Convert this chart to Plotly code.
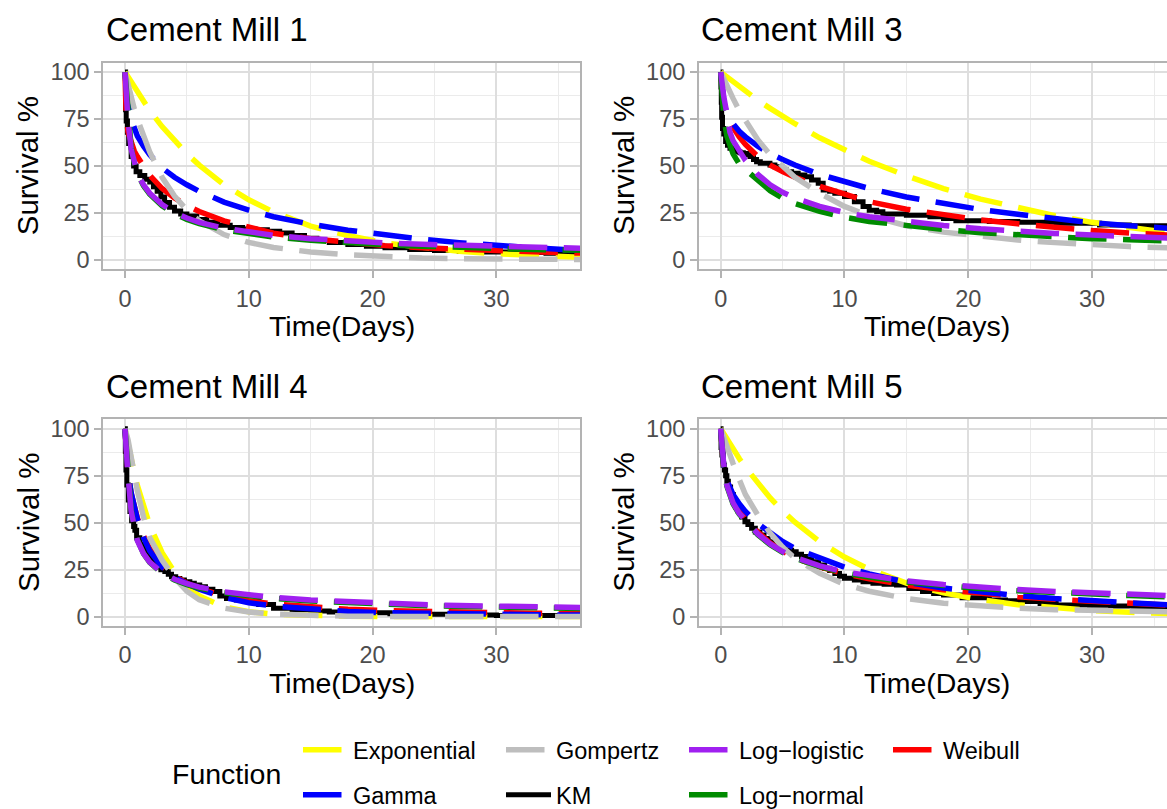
import plotly.graph_objects as go

W, H = 1167, 809
FONT = "Liberation Sans, Arial, Helvetica, sans-serif"

# ---------------- data ----------------
T_FIT = [0, 0.1, 0.25, 0.5, 0.75, 1, 1.5, 2, 3, 4, 5, 6, 8, 10, 12, 15, 18, 21, 24, 27, 30, 33, 37]

# Cement Mill 1
M1_EXPONENTIAL = [100, 99, 97, 94.5, 92, 89, 84, 79.5, 71, 63.5, 56.5, 50.5, 40, 32, 25.5, 18, 13, 9, 6.5, 4.6, 3.3, 2.3, 1.4]
M1_GAMMA = [100, 92, 85, 75, 70, 66, 60.5, 56, 49, 44, 40, 36.5, 30.8, 26.5, 23, 19, 15.8, 13.2, 11, 9.2, 7.6, 6.4, 5]
M1_GOMPERTZ = [100, 97, 93, 86.5, 80.5, 75, 65.5, 57.5, 44, 34, 26.5, 20.8, 13.5, 9.3, 6.6, 4.2, 2.7, 1.6, 1.0, 0.6, 0.4, 0.3, 0.2]
M1_LOGLOGISTIC = [100, 88, 74, 59, 51, 46, 40, 35.5, 29.5, 25.2, 22.3, 20, 16.9, 14.7, 13.1, 11.3, 10, 9.1, 8.3, 7.7, 7.1, 6.7, 6.2]
M1_LOGNORMAL = [100, 90, 76, 60, 51.5, 46, 39.5, 35, 28.8, 24.5, 21.6, 19.3, 16, 13.8, 12.2, 10.4, 9.1, 8.1, 7.3, 6.6, 6.1, 5.6, 5.1]
M1_WEIBULL = [100, 76, 68, 62, 58, 55, 49.5, 45, 38, 33, 29, 25.8, 20.8, 17.3, 14.2, 11.3, 9.3, 7.6, 6.5, 5.6, 4.9, 4.3, 3.6]
M1_KM_T = [0, 0.05, 0.1, 0.2, 0.3, 0.5, 0.7, 0.9, 1.2, 1.6, 2.0, 2.3, 2.6, 2.9, 3.2, 3.6, 4.0, 4.5, 5.0, 5.8,
           6.6, 7.5, 8.5, 9.5, 10.5, 11.5, 12.5, 13.5, 14.5, 15.5, 16.5, 18, 19.5, 21, 23, 25, 27, 29, 31, 34, 37]
M1_KM_S = [100, 80, 74, 68, 62, 55, 50, 47, 45, 43, 41.5, 39, 36.5, 33.5, 30.5, 28, 26, 24.5, 23.4, 21.5,
           20, 18.5, 17.3, 16.5, 16, 15.2, 14.3, 13, 11.5, 10.3, 9.3, 8.2, 7.3, 6.5, 5.5, 5.0, 4.5, 4.2, 3.9, 3.6, 3.5]

# Cement Mill 3
M3_EXPONENTIAL = [100, 99.5, 98.7, 97.4, 96, 95, 92.3, 90, 85, 80.7, 76.5, 72.5, 65, 58.5, 52.5, 44.8, 38, 32.4, 27.6, 23.5, 20, 17, 13.8]
M3_GAMMA = [100, 91, 84, 78, 75, 72.5, 68.5, 65.5, 60.5, 56.5, 53.5, 50.5, 45.5, 41.5, 38, 33.5, 29.8, 26.8, 24.3, 22, 19.8, 18.2, 16.5]
M3_GOMPERTZ = [100, 98.5, 96.5, 93, 89.5, 86, 79.5, 74, 64, 56, 49.5, 44, 35.5, 28.5, 23.5, 18.2, 14.8, 12.4, 10.6, 9.2, 8, 7.1, 6.2]
M3_LOGLOGISTIC = [100, 93, 87, 78, 68, 63.5, 57.5, 53, 45.5, 40, 36, 33, 28.5, 25.2, 23, 20.3, 18.3, 16.6, 15.2, 14.1, 13.2, 12.4, 11.5]
M3_LOGNORMAL = [100, 88, 76, 66, 60, 56.5, 51, 48, 42, 36.8, 32.8, 30, 25.8, 22.7, 20.5, 18, 16.2, 14.5, 13.2, 12.2, 11.3, 10.7, 10]
M3_WEIBULL = [100, 88, 83, 78, 74, 70.5, 65.5, 61.5, 55, 50.5, 47, 44, 39.2, 34.8, 31, 27, 23.8, 21.3, 19.2, 17.2, 15.6, 14.3, 13]
M3_KM_T = [0, 0.02, 0.05, 0.08, 0.15, 0.25, 0.4, 0.55, 0.75, 1.0, 1.29, 1.55, 1.83, 2.1, 2.37, 2.65, 2.9, 3.2, 3.44, 3.98,
           4.38, 4.92, 5.3, 5.73, 6.26, 6.8, 7.34, 7.88, 8.28, 8.8, 9.22, 10, 10.8, 11.5, 12, 12.6, 13.1, 15, 16.9, 18,
           19, 21.7, 24, 27.1, 30.6, 33, 37]
M3_KM_S = [100, 92, 84, 76, 70, 67, 63, 61, 59.4, 58.5, 57.6, 57, 56.7, 56, 55, 53.5, 52.3, 51.4, 51.4, 50.5,
           49.6, 47.9, 47, 46.1, 45.2, 44.3, 42.6, 40.8, 37.2, 36.5, 35.5, 33.7, 31, 28.4, 26.5, 25.7, 24.5, 23.8, 23, 22,
           20.8, 20.4, 20, 19.5, 18.6, 18.2, 17.7]

# Cement Mill 4
M4_EXPONENTIAL = [100, 96.5, 91.3, 83.5, 76.3, 69.8, 58.3, 48.7, 34, 23.7, 16, 11, 5.2, 2.6, 1.3, 0.4, 0.15, 0.05, 0, 0, 0, 0, 0]
M4_GAMMA = [100, 86, 77, 66, 58, 52, 42, 35, 26.3, 21, 17.5, 14.6, 10.2, 7.4, 5.6, 3.8, 2.7, 2.1, 1.7, 1.4, 1.2, 1, 0.8]
M4_GOMPERTZ = [100, 98, 94, 85, 75.5, 67, 53, 42, 30, 20.5, 13.5, 9, 4.5, 2.4, 1.3, 0.5, 0.2, 0.1, 0, 0, 0, 0, 0]
M4_LOGLOGISTIC = [100, 88, 75, 56, 47, 40.5, 33.5, 29, 23.3, 19.9, 17.5, 15.7, 13.2, 11.5, 10.2, 8.8, 7.8, 7, 6.4, 5.9, 5.5, 5.2, 4.8]
M4_LOGNORMAL = [100, 89, 76, 57, 47.5, 41, 33.5, 28.8, 23, 19.5, 17, 15.2, 12.7, 11, 9.7, 8.3, 7.3, 6.5, 5.9, 5.4, 5, 4.7, 4.3]
M4_WEIBULL = [100, 84, 76, 65.5, 58, 52.5, 43, 36, 27, 21.5, 17.8, 15, 11, 8.4, 6.7, 5, 3.9, 3.2, 2.7, 2.3, 2.0, 1.8, 1.6]
M4_KM_T = [0, 0.03, 0.08, 0.15, 0.27, 0.4, 0.54, 0.7, 0.8, 0.94, 1.2, 1.5, 1.75, 2.1, 2.55, 2.9, 3.22, 3.5, 3.76, 4.1,
           4.43, 4.8, 5.24, 5.6, 6.04, 6.5, 7.1, 7.66, 8.2, 9.0, 9.8, 10.8, 12, 13.5, 15, 16.5, 18.5, 21.4, 24, 27, 30, 37]
M4_KM_S = [100, 88, 78, 70, 62, 56, 51, 48, 46, 42, 38.5, 35.5, 33, 29.5, 26.5, 25, 24, 22.5, 21.2, 20.3,
           19.5, 18.5, 17.7, 16.8, 15.9, 14.6, 13.3, 11, 9.7, 8.8, 8.0, 6.5, 4.4, 3.6, 3.0, 2.5, 2.0, 1.5, 1.2, 0.9, 0.6, 0.6]

# Cement Mill 5
M5_EXPONENTIAL = [100, 98.9, 97.2, 94.4, 91.7, 89.1, 84.1, 79.5, 70.8, 63.1, 56.3, 50.2, 39.9, 31.7, 25.2, 17.8, 12.6, 9, 6.3, 4.5, 3.2, 2.3, 1.4]
M5_GAMMA = [100, 88, 80, 72.5, 68, 65, 60, 56, 49.5, 44.5, 40, 36.3, 31, 26.3, 22.7, 18.3, 15.2, 13, 11.2, 9.6, 8.3, 7.1, 5.9]
M5_GOMPERTZ = [100, 98, 95.5, 91, 86, 81.5, 73, 65, 54, 44.5, 37, 31, 23, 17.2, 13.5, 9.6, 7.1, 5.6, 4.5, 3.7, 3.2, 2.8, 2.4]
M5_LOGLOGISTIC = [100, 91, 81, 70, 64.5, 60.5, 55, 51, 44, 38.7, 34.6, 31.5, 27, 23.8, 21.6, 19, 17.1, 15.6, 14.4, 13.4, 12.6, 11.9, 11]
M5_LOGNORMAL = [100, 90, 80, 69.5, 64, 60, 54.5, 50.5, 43.6, 38.2, 34.2, 31.1, 26.6, 23.3, 21, 18.4, 16.4, 14.9, 13.7, 12.7, 11.9, 11.2, 10.3]
M5_WEIBULL = [100, 85, 79, 72.5, 67.5, 64, 57.5, 52.5, 45, 39.2, 34.8, 31.2, 26.5, 22.9, 20.1, 16.8, 14.3, 12.3, 10.6, 9.2, 8, 7, 5.8]
M5_KM_T = [0, 0.03, 0.1, 0.2, 0.3, 0.4, 0.5, 0.62, 0.8, 1.02, 1.2, 1.42, 1.7, 1.96, 2.2, 2.5, 2.8, 3.17, 3.5, 3.84,
           4.2, 4.65, 5.2, 5.73, 6.1, 6.53, 6.9, 7.34, 7.9, 8.4, 8.8, 9.22, 9.6, 10, 10.8, 11.5, 12.3, 13.2, 14.2, 15.2,
           16.3, 17.2, 18, 19.5, 21.7, 23, 24.4, 25.8, 27.1, 29.8, 31.5, 33.3, 35, 37]
M5_KM_S = [100, 90, 86, 80.5, 78, 75, 72, 69, 65, 61, 58.5, 56, 53, 50.5, 49, 47, 45, 43.4, 41.5, 39.8,
           38, 36.3, 35.3, 34.5, 33.2, 32, 30.5, 29.2, 27.5, 25.7, 24.5, 23, 21.5, 20.4, 19.5, 18.6, 17.7, 17.2, 16.8, 15,
           13.3, 12.3, 11.5, 10, 8.8, 8.4, 8, 7, 6.2, 6.0, 5.6, 5.3, 4.8, 4.5]

PANEL_TITLES = ["Cement Mill 1", "Cement Mill 3", "Cement Mill 4", "Cement Mill 5"]
X_TICKS = [0, 10, 20, 30]
Y_TICKS = [0, 25, 50, 75, 100]

# ---------------- styles / layout ----------------
COLORS = {"Exponential": "#FFFF00", "Gamma": "#0000FF", "Gompertz": "#BEBEBE", "KM": "#000000",
          "Log−logistic": "#A020F0", "Log−normal": "#008B00", "Weibull": "#FF0000"}
# legend slot (key left px, row centre px)
LEGEND_POS = {"Exponential": (303, 750), "Gompertz": (506, 750), "Log−logistic": (689, 750), "Weibull": (893, 750),
              "Gamma": (303, 795), "KM": (506, 795), "Log−normal": (689, 795)}
LEGEND_ID = {"Exponential": "legend", "Gompertz": "legend2", "Log−logistic": "legend3", "Weibull": "legend4",
             "Gamma": "legend5", "KM": "legend6", "Log−normal": "legend7"}

PANELS = [
    dict(fits={"Exponential": M1_EXPONENTIAL, "Weibull": M1_WEIBULL, "Gamma": M1_GAMMA, "Gompertz": M1_GOMPERTZ,
               "Log−normal": M1_LOGNORMAL, "Log−logistic": M1_LOGLOGISTIC}, km=(M1_KM_T, M1_KM_S),
         px=(103.3, 580.0), py=(62.7, 269.3), xr=[-1.75, 36.75], right=False),
    dict(fits={"Exponential": M3_EXPONENTIAL, "Weibull": M3_WEIBULL, "Gamma": M3_GAMMA, "Gompertz": M3_GOMPERTZ,
               "Log−normal": M3_LOGNORMAL, "Log−logistic": M3_LOGLOGISTIC}, km=(M3_KM_T, M3_KM_S),
         px=(699.0, 1167.0), py=(62.7, 269.3), xr=[-1.75, 36.05], right=True),
    dict(fits={"Exponential": M4_EXPONENTIAL, "Weibull": M4_WEIBULL, "Gamma": M4_GAMMA, "Gompertz": M4_GOMPERTZ,
               "Log−normal": M4_LOGNORMAL, "Log−logistic": M4_LOGLOGISTIC}, km=(M4_KM_T, M4_KM_S),
         px=(103.3, 580.0), py=(419.3, 626.0), xr=[-1.75, 36.75], right=False),
    dict(fits={"Exponential": M5_EXPONENTIAL, "Weibull": M5_WEIBULL, "Gamma": M5_GAMMA, "Gompertz": M5_GOMPERTZ,
               "Log−normal": M5_LOGNORMAL, "Log−logistic": M5_LOGLOGISTIC}, km=(M5_KM_T, M5_KM_S),
         px=(699.0, 1167.0), py=(419.3, 626.0), xr=[-1.75, 36.05], right=True),
]

fig = go.Figure()
layout = dict(width=W, height=H, margin=dict(l=0, r=0, t=0, b=0, autoexpand=False),
              paper_bgcolor="white", plot_bgcolor="white",
              font=dict(family=FONT, color="black"), showlegend=True)

DASH = "38.5px,16.5px"
annotations = []

for i, p in enumerate(PANELS):
    n = "" if i == 0 else str(i + 1)
    xa, ya = "x" + n, "y" + n
    first = (i == 0)
    # KM first (drawn beneath)
    fig.add_trace(go.Scatter(x=p["km"][0], y=p["km"][1], mode="lines", name="KM",
                             line=dict(color=COLORS["KM"], width=5, shape="hv"),
                             xaxis=xa, yaxis=ya, showlegend=first, legend=LEGEND_ID["KM"],
                             hoverinfo="skip"))
    for fname, vals in p["fits"].items():
        fig.add_trace(go.Scatter(x=T_FIT, y=vals, mode="lines", name=fname,
                                 line=dict(color=COLORS[fname], width=5.5, dash=DASH),
                                 xaxis=xa, yaxis=ya, showlegend=first, legend=LEGEND_ID[fname],
                                 hoverinfo="skip"))
    x0, x1 = p["px"]
    y0, y1 = p["py"]
    common = dict(showgrid=True, gridcolor="#DEDEDE", gridwidth=1.8, zeroline=False,
                  showline=True, linecolor="#B3B3B3", linewidth=2,
                  ticks="outside", ticklen=7, tickwidth=2, tickcolor="#B3B3B3",
                  tickfont=dict(size=23.5, color="#4D4D4D", family=FONT), fixedrange=True)
    layout["xaxis" + n] = dict(domain=[x0 / W, x1 / W], range=p["xr"], anchor=ya,
                               tickvals=X_TICKS, mirror=True,
                               minor=dict(dtick=5, tick0=0, showgrid=True, gridcolor="#EBEBEB", gridwidth=1.2, ticks=""),
                               **common)
    layout["yaxis" + n] = dict(domain=[1 - y1 / H, 1 - y0 / H], range=[-5, 105], anchor=xa,
                               tickvals=Y_TICKS, mirror=(not p["right"]),
                               minor=dict(dtick=12.5, tick0=0, showgrid=True, gridcolor="#EBEBEB", gridwidth=1.2, ticks=""),
                               **common)
    # panel title
    annotations.append(dict(text=PANEL_TITLES[i], xref="paper", yref="paper", x=(x0 + 0.5) / W,
                            y=1 - (y0 - 33) / H, xanchor="left", yanchor="middle", showarrow=False,
                            font=dict(size=33, color="black", family=FONT)))
    # x-axis title (centre of full panel width 476.7)
    annotations.append(dict(text="Time(Days)", xref="paper", yref="paper", x=(x0 + 238.35) / W,
                            y=1 - (y1 + 57) / H, xanchor="center", yanchor="middle", showarrow=False,
                            font=dict(size=28.5, color="black", family=FONT)))
    # y-axis title
    annotations.append(dict(text="Survival %", xref="paper", yref="paper", x=(x0 - 75) / W,
                            y=1 - ((y0 + y1) / 2) / H, xanchor="center", yanchor="middle", showarrow=False,
                            textangle=-90, font=dict(size=29.5, color="black", family=FONT)))

# legend title
annotations.append(dict(text="Function", xref="paper", yref="paper", x=226 / W, y=1 - 774 / H,
                        xanchor="center", yanchor="middle", showarrow=False,
                        font=dict(size=28.5, color="black", family=FONT)))

for fname, lid in LEGEND_ID.items():
    kx, ky = LEGEND_POS[fname]
    layout[lid] = dict(x=(kx - 5) / W, y=1 - ky / H, xanchor="left", yanchor="middle",
                       orientation="v", bgcolor="rgba(0,0,0,0)", borderwidth=0, itemwidth=45,
                       font=dict(size=23.5, color="black", family=FONT))

layout["annotations"] = annotations
fig.update_layout(**layout)
fig.write_html("out.html")
